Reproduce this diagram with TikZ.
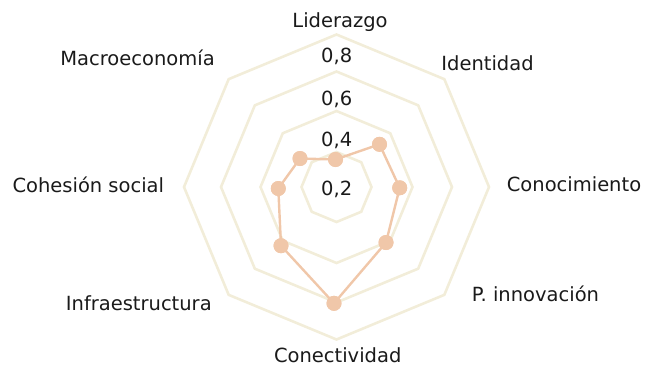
\documentclass[tikz,border=0pt]{standalone}
\usepackage{fontspec}
\setmainfont{DejaVu Sans}
\definecolor{ringc}{HTML}{F2EDD9}
\definecolor{datac}{HTML}{F0C7A9}
\definecolor{txtc}{HTML}{1A1A1A}
\begin{document}
\begin{tikzpicture}[x=1bp,y=-1bp,
  ring/.style={draw=ringc,line width=2.6bp,line join=miter},
  dataline/.style={draw=datac,line width=2.4bp},
  dot/.style={circle,fill=datac,inner sep=0pt,minimum size=15bp},
  lbl/.style={anchor=base,text=txtc,inner sep=0pt,font=\fontsize{19.5bp}{23bp}\selectfont}]
\useasboundingbox (0,0) rectangle (645,368);
\coordinate (c) at (336.5,187);
% grid rings
\begin{scope}[shift={(c)}]
\foreach \r in {35,76,115.5,152.5}{
  \draw[ring] (0:\r) \foreach \a in {45,90,...,315}{ -- (\a:\r)} -- cycle;
}
\end{scope}
% scale labels
\node[lbl] (s2) at (336.7,195) {0,2};
\node[lbl] (s4) at (336.7,146.7) {0,4};
\node[lbl] (s6) at (336.7,105) {0,6};
\node[lbl] (s8) at (336.7,62.7) {0,8};
% data points
\node[dot] (lid) at (335.5,159.5) {};
\node[dot] (ide) at (379.5,144.3) {};
\node[dot] (con) at (399.7,187.8) {};
\node[dot] (pin) at (386,242.5) {};
\node[dot] (cnt) at (334,303.3) {};
\node[dot] (inf) at (281,245.7) {};
\node[dot] (coh) at (278.3,188.5) {};
\node[dot] (mac) at (300,158.5) {};
\draw[dataline] (lid.center) -- (ide.center) -- (con.center) -- (pin.center) -- (cnt.center) -- (inf.center) -- (coh.center) -- (mac.center) -- cycle;
\foreach \n in {lid,ide,con,pin,cnt,inf,coh,mac}{
  \fill[datac] (\n) circle (7.5bp);
}
% axis labels
\node[lbl] (tlid) at (340,27.3) {Liderazgo};
\node[lbl] (tide) at (487.5,70.7) {Identidad};
\node[lbl] (tcon) at (574,191.7) {Conocimiento};
\node[lbl] (tpin) at (535.5,301.7) {P. innovación};
\node[lbl] (tcnt) at (337.7,362.5) {Conectividad};
\node[lbl] (tinf) at (138.8,310) {Infraestructura};
\node[lbl] (tcoh) at (88.3,192.3) {Cohesión social};
\node[lbl] (tmac) at (137.5,65) {Macroeconomía};
\end{tikzpicture}
\end{document}
